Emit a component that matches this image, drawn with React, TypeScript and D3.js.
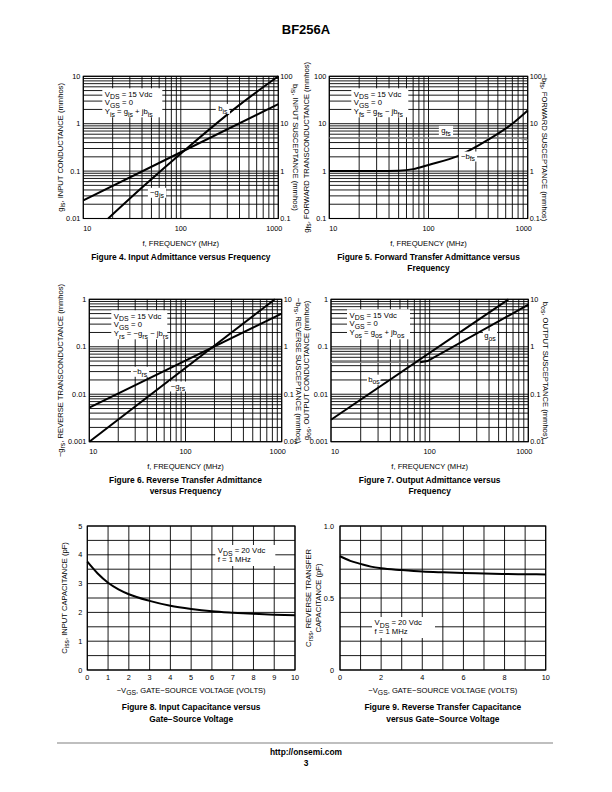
import React from "react";
import * as d3 from "d3";

const FONT = "'Liberation Sans', Arial, Helvetica, sans-serif";
type Pt = [number, number];

// ---------- Figure 4: Input admittance ----------
const fig4LeftTicks = [0.01, 0.1, 1, 10];
const fig4RightTicks = [0.1, 1, 10, 100];
const fig4Gis: Pt[] = [[18, 0.01], [40, 0.045], [115, 0.3], [400, 2.5], [1000, 10]];
const fig4Bis: Pt[] = [[10, 0.24], [100, 2.5], [1000, 26]];

// ---------- Figure 5: Forward transfer admittance ----------
const fig5LeftTicks = [0.1, 1, 10, 100];
const fig5RightTicks = [0.1, 1, 10, 100];
const fig5Bfs: Pt[] = [[10, 1.0], [30, 1.0], [50, 1.02], [70, 1.1], [100, 1.35], [200, 2.1], [400, 4.6], [700, 10], [1000, 19]];
const fig5Gfs: Pt[] = [[10, 5], [800, 5], [1000, 4.5]];

// ---------- Figure 6: Reverse transfer admittance ----------
const fig6LeftTicks = [0.001, 0.01, 0.1, 1];
const fig6RightTicks = [0.01, 0.1, 1, 10];
const fig6Grs: Pt[] = [[10, 0.001], [850, 1]];
const fig6Brs: Pt[] = [[10, 0.052], [1000, 5]];

// ---------- Figure 7: Output admittance ----------
const fig7LeftTicks = [0.001, 0.01, 0.1, 1];
const fig7RightTicks = [0.01, 0.1, 1, 10];
const fig7GosLow: Pt[] = [[10, 0.047], [80, 0.047]];
const fig7Gos: Pt[] = [[80, 0.047], [95, 0.05], [1000, 0.77]];
const fig7Bos: Pt[] = [[10, 0.029], [630, 10]];

// ---------- shared frequency axis ----------
const freqTicks = [10, 100, 1000];

// ---------- Figure 8: Input capacitance ----------
const fig8Vgs = [0, 0.5, 1, 1.5, 2, 3, 4, 5, 6, 7, 8, 9, 10];
const fig8Ciss = [3.76, 3.35, 3.03, 2.8, 2.63, 2.4, 2.23, 2.12, 2.04, 1.99, 1.95, 1.92, 1.9];
const fig8XTicks = [0, 1, 2, 3, 4, 5, 6, 7, 8, 9, 10];
const fig8YTicks = [0, 1, 2, 3, 4, 5];
const fig8YLabels = ["0", "1", "2", "3", "4", "5"];

// ---------- Figure 9: Reverse transfer capacitance ----------
const fig9Vgs = [0, 0.5, 1, 1.5, 2, 3, 4, 5, 6, 7, 8, 9, 10];
const fig9Crss = [0.79, 0.758, 0.737, 0.718, 0.706, 0.694, 0.684, 0.678, 0.673, 0.67, 0.667, 0.665, 0.664];
const fig9XTicks = [0, 2, 4, 6, 8, 10];
const fig9YTicks = [0, 0.5, 1.0];
const fig9YLabels = ["0", "0.5", "1.0"];

// ---------- helpers ----------
function parts(s: string) {
  const out: { t: string; sub: boolean }[] = [];
  const re = /_\{([^}]*)\}/g;
  let last = 0;
  let m: RegExpExecArray | null;
  while ((m = re.exec(s))) {
    if (m.index > last) out.push({ t: s.slice(last, m.index), sub: false });
    out.push({ t: m[1], sub: true });
    last = re.lastIndex;
  }
  if (last < s.length) out.push({ t: s.slice(last), sub: false });
  return out;
}

const SUB = 0.9;

function textWidth(s: string, size: number) {
  return parts(s).reduce((a, p) => a + p.t.length * (p.sub ? size * SUB : size) * 0.52, 0);
}

function Rich({ s, x = 0, y = 0, size, anchor = "start", weight = "normal", transform }: any) {
  const ps = parts(s);
  let shifted = false;
  const sh = size * 0.3;
  return (
    <text x={x} y={y} fontSize={size} textAnchor={anchor} fontWeight={weight} transform={transform}
      fontFamily={FONT} fill="#000" style={{ whiteSpace: "pre" }}>
      {ps.map((p, i) => {
        let dy = 0;
        if (p.sub && !shifted) { dy = sh; shifted = true; }
        else if (!p.sub && shifted) { dy = -sh; shifted = false; }
        return (
          <tspan key={i} dy={dy !== 0 ? dy : undefined} fontSize={p.sub ? size * SUB : size}>{p.t}</tspan>
        );
      })}
    </text>
  );
}

interface Curve { pts: Pt[]; axis: "L" | "R"; color?: string; width?: number; smooth?: boolean }
interface Ann { s: string; f: number; v: number; leader?: number }
interface Legend { dx: number; dy: number; w: number; h: number; lines: string[] }

const TICK = 7.3;
const TITLE = 7.6;
const CAP = 8.4;
const LEG = 7.7;

function Legendbox({ l, t, lg }: { l: number; t: number; lg: Legend }) {
  return (
    <g>
      <rect x={l + lg.dx} y={t + lg.dy} width={lg.w} height={lg.h} fill="#fff" />
      {lg.lines.map((ln, i) => (
        <Rich key={i} s={ln} x={l + lg.dx + 2.5} y={t + lg.dy + 8.3 + i * 8.8} size={LEG} />
      ))}
    </g>
  );
}

function LogChart(p: any) {
  const { l, r, t, b, yLo, yHi, rf, leftTicks, rightTicks, curves, anns, legend,
    leftTitle, rightTitle, leftTitleX, rightTitleX, xTitle, caption } = p;
  const x = d3.scaleLog().domain([10, 1000]).range([l, r]);
  const yL = d3.scaleLog().domain([yLo, yHi]).range([b, t]);
  const yR = d3.scaleLog().domain([yLo * rf, yHi * rf]).range([b, t]);
  const hv: number[] = [];
  const e0 = Math.round(Math.log10(yLo));
  const e1 = Math.round(Math.log10(yHi));
  for (let e = e0; e < e1; e++) for (let m = 1; m <= 9; m++) hv.push(m * Math.pow(10, e));
  hv.push(yHi);
  const vv: number[] = [];
  for (let e = 1; e < 3; e++) for (let m = 1; m <= 9; m++) vv.push(m * Math.pow(10, e));
  vv.push(1000);
  const cy = (t + b) / 2;
  const cx = (l + r) / 2;
  return (
    <g>
      <rect x={l} y={t} width={r - l} height={b - t} fill="#fff" />
      {hv.map((v, i) => (
        <line key={"h" + i} x1={l} x2={r} y1={yL(v)} y2={yL(v)} stroke="#000" strokeWidth={0.9} />
      ))}
      {vv.map((v, i) => (
        <line key={"v" + i} y1={t} y2={b} x1={x(v)} x2={x(v)} stroke="#000" strokeWidth={0.9} />
      ))}
      <rect x={l} y={t} width={r - l} height={b - t} fill="none" stroke="#000" strokeWidth={1.1} />
      <Legendbox l={l} t={t} lg={legend} />
      {curves.map((c: Curve, i: number) => {
        const ys = c.axis === "L" ? yL : yR;
        const gen = d3.line<Pt>().x((d) => x(d[0])).y((d) => ys(d[1]))
          .curve(c.smooth ? d3.curveMonotoneX : d3.curveLinear);
        return <path key={"c" + i} d={gen(c.pts) || ""} fill="none" stroke={c.color || "#000"}
          strokeWidth={c.width || 2} strokeLinecap="butt" />;
      })}
      {anns.map((a: Ann, i: number) => {
        const px = x(a.f);
        const py = yL(a.v);
        const w = textWidth(a.s, LEG);
        return (
          <g key={"a" + i}>
            <rect x={px - w / 2 - 1.5} y={py - 5.5} width={w + 3} height={10} fill="#fff" />
            {a.leader ? (
              <line x1={a.leader > 0 ? px + w / 2 + 0.5 : px - w / 2 - 0.5}
                x2={a.leader > 0 ? px + w / 2 + a.leader : px - w / 2 + a.leader}
                y1={py} y2={py} stroke="#000" strokeWidth={0.8} />
            ) : null}
            <Rich s={a.s} x={px} y={py + 2} size={LEG} anchor="middle" />
          </g>
        );
      })}
      {leftTicks.map((v: number, i: number) => (
        <text key={"lt" + i} x={l - 3} y={yL(v)} dy="0.35em" fontSize={TICK} textAnchor="end" fontFamily={FONT}>{String(v)}</text>
      ))}
      {rightTicks.map((v: number, i: number) => (
        <text key={"rt" + i} x={r + 2} y={yR(v)} dy="0.35em" fontSize={TICK} textAnchor="start" fontFamily={FONT}>{String(v)}</text>
      ))}
      {freqTicks.map((v, i) => (
        <text key={"xt" + i} x={x(v) + (i === 0 ? 4 : i === freqTicks.length - 1 ? -4 : 0)} y={b + 12}
          fontSize={TICK} textAnchor="middle" fontFamily={FONT}>{String(v)}</text>
      ))}
      <Rich s={leftTitle} size={TITLE} anchor="middle" transform={`translate(${leftTitleX},${cy}) rotate(-90)`} />
      <Rich s={rightTitle} size={TITLE} anchor="middle" transform={`translate(${rightTitleX},${cy}) rotate(90)`} />
      <Rich s={xTitle} x={cx} y={b + 27} size={TITLE} anchor="middle" />
      {caption.map((c: string, i: number) => (
        <text key={"cap" + i} x={cx} y={b + 41 + i * 11} fontSize={CAP} fontWeight="bold" textAnchor="middle" fontFamily={FONT}>{c}</text>
      ))}
    </g>
  );
}

function LinChart(p: any) {
  const { l, r, t, b, xMax, yMax, xStep, yStep, xTicks, yTicks, yLabels, xs, ys, legend,
    titles, titleXs, xTitle, caption, yLabelGap } = p;
  const x = d3.scaleLinear().domain([0, xMax]).range([l, r]);
  const y = d3.scaleLinear().domain([0, yMax]).range([b, t]);
  const xg = d3.range(0, xMax + 1e-9, xStep);
  const yg = d3.range(0, yMax + 1e-9, yStep);
  const pts: Pt[] = xs.map((v: number, i: number) => [v, ys[i]] as Pt);
  const gen = d3.line<Pt>().x((d) => x(d[0])).y((d) => y(d[1])).curve(d3.curveMonotoneX);
  const cy = (t + b) / 2;
  const cx = (l + r) / 2;
  return (
    <g>
      <rect x={l} y={t} width={r - l} height={b - t} fill="#fff" />
      {yg.map((v: number, i: number) => (
        <line key={"h" + i} x1={l} x2={r} y1={y(v)} y2={y(v)} stroke="#000" strokeWidth={0.9} />
      ))}
      {xg.map((v: number, i: number) => (
        <line key={"v" + i} y1={t} y2={b} x1={x(v)} x2={x(v)} stroke="#000" strokeWidth={0.9} />
      ))}
      <rect x={l} y={t} width={r - l} height={b - t} fill="none" stroke="#000" strokeWidth={1.1} />
      <Legendbox l={l} t={t} lg={legend} />
      <path d={gen(pts) || ""} fill="none" stroke="#000" strokeWidth={2} />
      {yTicks.map((v: number, i: number) => (
        <text key={"yt" + i} x={l - yLabelGap} y={y(v)} dy="0.35em" fontSize={TICK} textAnchor="end" fontFamily={FONT}>{yLabels[i]}</text>
      ))}
      {xTicks.map((v: number, i: number) => (
        <text key={"xt" + i} x={x(v)} y={b + 10} fontSize={TICK} textAnchor="middle" fontFamily={FONT}>{String(v)}</text>
      ))}
      {titles.map((s: string, i: number) => (
        <Rich key={"tt" + i} s={s} size={TITLE} anchor="middle" transform={`translate(${titleXs[i]},${cy}) rotate(-90)`} />
      ))}
      <Rich s={xTitle} x={cx} y={b + 23} size={TITLE} anchor="middle" />
      {caption.map((c: string, i: number) => (
        <text key={"cap" + i} x={cx} y={b + 40 + i * 12} fontSize={CAP} fontWeight="bold" textAnchor="middle" fontFamily={FONT}>{c}</text>
      ))}
    </g>
  );
}

export default function App() {
  return (
    <svg width={612} height={792} viewBox="0 0 612 792"
      style={{ position: "absolute", left: 0, top: 0, background: "#fff" }}>
      <rect x={0} y={0} width={612} height={792} fill="#fff" />
      <text x={306} y={34} fontSize={13} fontWeight="bold" textAnchor="middle" fontFamily={FONT}>BF256A</text>

      <LogChart l={83.3} r={278.3} t={76.3} b={218.5} yLo={0.01} yHi={10} rf={10}
        leftTicks={fig4LeftTicks} rightTicks={fig4RightTicks}
        curves={[
          { pts: fig4Gis, axis: "L", smooth: true },
          { pts: fig4Bis, axis: "R" },
        ]}
        anns={[
          { s: "b_{is}", f: 270, v: 2.0, leader: 8 },
          { s: "−g_{is}", f: 57, v: 0.034 },
        ]}
        legend={{ dx: 19, dy: 12, w: 60, h: 29, lines: ["V_{DS} = 15 Vdc", "V_{GS} = 0", "Y_{is} = g_{is} + jb_{is}"] }}
        leftTitle="g_{is}, INPUT CONDUCTANCE (mmhos)" leftTitleX={63}
        rightTitle="b_{is}, INPUT SUSCEPTANCE (mmhos)" rightTitleX={293}
        xTitle="f, FREQUENCY (MHz)"
        caption={["Figure 4. Input Admittance versus Frequency"]} />

      <LogChart l={329.3} r={527.7} t={76.3} b={218.5} yLo={0.1} yHi={100} rf={1}
        leftTicks={fig5LeftTicks} rightTicks={fig5RightTicks}
        curves={[
          { pts: fig5Gfs, axis: "L", color: "#8a8a8a", width: 1.3 },
          { pts: fig5Bfs, axis: "R", smooth: true },
        ]}
        anns={[
          { s: "g_{fs}", f: 150, v: 6.9 },
          { s: "−b_{fs}", f: 250, v: 1.98 },
        ]}
        legend={{ dx: 22, dy: 12, w: 57, h: 29, lines: ["V_{DS} = 15 Vdc", "V_{GS} = 0", "Y_{fs} = g_{fs} − jb_{fs}"] }}
        leftTitle="g_{fs}, FORWARD TRANSCONDUCTANCE (mmhos)" leftTitleX={309}
        rightTitle="−b_{fs}, FORWARD SUSCEPTANCE (mmhos)" rightTitleX={542}
        xTitle="f, FREQUENCY (MHz)"
        caption={["Figure 5. Forward Transfer Admittance versus", "Frequency"]} />

      <LogChart l={89.3} r={281.7} t={299.3} b={441.7} yLo={0.001} yHi={1} rf={10}
        leftTicks={fig6LeftTicks} rightTicks={fig6RightTicks}
        curves={[
          { pts: fig6Grs, axis: "L" },
          { pts: fig6Brs, axis: "R" },
        ]}
        anns={[
          { s: "−b_{rs}", f: 33.7, v: 0.029 },
          { s: "−g_{rs}", f: 83.6, v: 0.0142 },
        ]}
        legend={{ dx: 22, dy: 11, w: 56, h: 29, lines: ["V_{DS} = 15 Vdc", "V_{GS} = 0", "Y_{rs} = −g_{rs} − jb_{rs}"] }}
        leftTitle="−g_{rs}, REVERSE TRANSCONDUCTANCE (mmhos)" leftTitleX={63}
        rightTitle="−b_{rs}, REVERSE SUSCEPTANCE (mmhos)" rightTitleX={296}
        xTitle="f, FREQUENCY (MHz)"
        caption={["Figure 6. Reverse Transfer Admittance", "versus Frequency"]} />

      <LogChart l={331} r={528.3} t={299.3} b={441.7} yLo={0.001} yHi={1} rf={10}
        leftTicks={fig7LeftTicks} rightTicks={fig7RightTicks}
        curves={[
          { pts: fig7GosLow, axis: "L", color: "#8a8a8a", width: 1.3 },
          { pts: fig7Gos, axis: "L" },
          { pts: fig7Bos, axis: "R" },
        ]}
        anns={[
          { s: "b_{os}", f: 27.3, v: 0.0198, leader: 8 },
          { s: "g_{os}", f: 409, v: 0.166 },
        ]}
        legend={{ dx: 16, dy: 10, w: 63, h: 30, lines: ["V_{DS} = 15 Vdc", "V_{GS} = 0", "Y_{os} = g_{os} + jb_{os}"] }}
        leftTitle="g_{os}, OUTPUT CONDUCTANCE (mmhos)" leftTitleX={309}
        rightTitle="b_{os}, OUTPUT SUSCEPTANCE (mmhos)" rightTitleX={543}
        xTitle="f, FREQUENCY (MHz)"
        caption={["Figure 7. Output Admittance versus", "Frequency"]} />

      <LinChart l={87.3} r={295} t={526} b={670} xMax={10} yMax={5} xStep={1} yStep={0.5}
        xTicks={fig8XTicks} yTicks={fig8YTicks} yLabels={fig8YLabels} yLabelGap={5}
        xs={fig8Vgs} ys={fig8Ciss}
        legend={{ dx: 128, dy: 19, w: 60, h: 21, lines: ["V_{DS} = 20 Vdc", "f = 1 MHz"] }}
        titles={["C_{iss}, INPUT CAPACITANCE (pF)"]} titleXs={[67]}
        xTitle="−V_{GS}, GATE−SOURCE VOLTAGE (VOLTS)"
        caption={["Figure 8. Input Capacitance versus", "Gate−Source Voltage"]} />

      <LinChart l={340} r={545.7} t={526} b={670} xMax={10} yMax={1} xStep={1} yStep={0.1}
        xTicks={fig9XTicks} yTicks={fig9YTicks} yLabels={fig9YLabels} yLabelGap={6}
        xs={fig9Vgs} ys={fig9Crss}
        legend={{ dx: 32, dy: 91, w: 63, h: 21, lines: ["V_{DS} = 20 Vdc", "f = 1 MHz"] }}
        titles={["C_{rss}, REVERSE TRANSFER", "CAPACITANCE (pF)"]} titleXs={[311, 321]}
        xTitle="−V_{GS}, GATE−SOURCE VOLTAGE (VOLTS)"
        caption={["Figure 9. Reverse Transfer Capacitance", "versus Gate−Source Voltage"]} />

      <line x1={57} x2={553} y1={743} y2={743} stroke="#aaa" strokeWidth={1.5} />
      <text x={306} y={755} fontSize={8.4} fontWeight="bold" textAnchor="middle" fontFamily={FONT}>http://onsemi.com</text>
      <text x={306} y={766} fontSize={8.4} fontWeight="bold" textAnchor="middle" fontFamily={FONT}>3</text>
    </svg>
  );
}
